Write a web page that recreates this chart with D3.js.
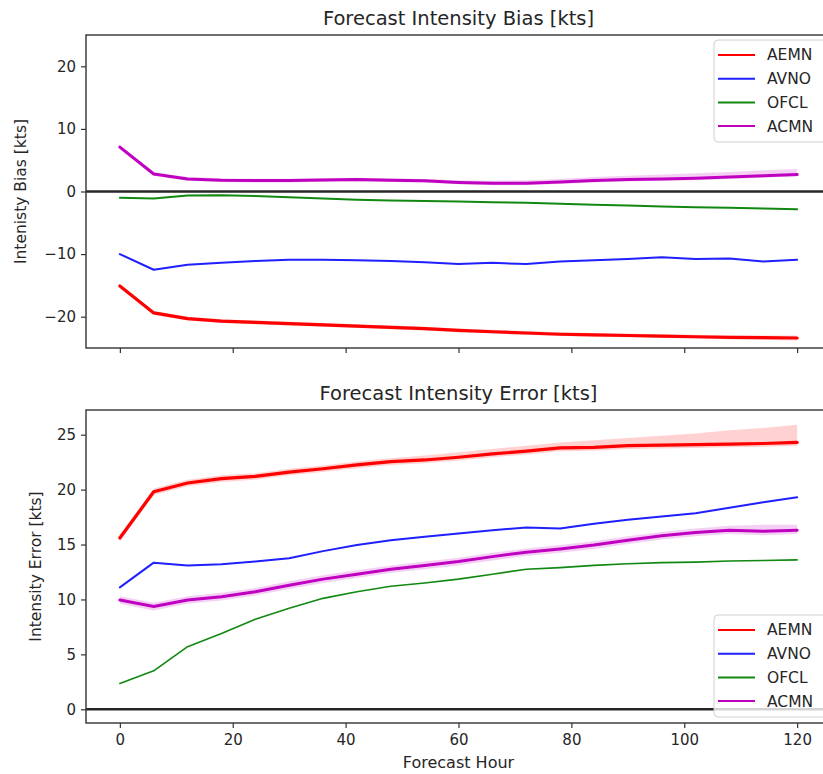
<!DOCTYPE html>
<html>
<head>
<meta charset="utf-8">
<script src="https://cdn.jsdelivr.net/npm/d3@7/dist/d3.min.js"></script>
<style>
  html, body { margin: 0; padding: 0; background: #fff; }
  svg { display: block; font-family: "DejaVu Sans", sans-serif; }
</style>
</head>
<body>
<svg id="chart" width="823" height="774"></svg>
<script>
// ---------------- DATA ----------------
const hours = [0, 6, 12, 18, 24, 30, 36, 42, 48, 54, 60, 66, 72, 78, 84, 90, 96, 102, 108, 114, 120];
const seriesNames = ["AEMN", "AVNO", "OFCL", "ACMN"];
const seriesColors = ["#ff0000", "#1f1fff", "#118811", "#c000c0"];

// Forecast Intensity Bias [kts]
const biasAEMN = [-15.1, -19.4, -20.3, -20.7, -20.9, -21.1, -21.3, -21.5, -21.7, -21.9, -22.2, -22.4, -22.6, -22.8, -22.9, -23.0, -23.1, -23.2, -23.3, -23.35, -23.4];
const biasAVNO = [-10.0, -12.5, -11.7, -11.4, -11.1, -10.9, -10.9, -11.0, -11.1, -11.3, -11.6, -11.4, -11.6, -11.2, -11.0, -10.8, -10.5, -10.8, -10.7, -11.2, -10.9];
const biasOFCL = [-1.0, -1.1, -0.65, -0.6, -0.7, -0.9, -1.1, -1.3, -1.45, -1.5, -1.6, -1.7, -1.8, -1.95, -2.1, -2.25, -2.4, -2.5, -2.6, -2.7, -2.85];
const biasACMN = [7.1, 2.8, 2.0, 1.8, 1.75, 1.75, 1.85, 1.9, 1.8, 1.7, 1.45, 1.3, 1.3, 1.5, 1.75, 1.9, 2.0, 2.1, 2.3, 2.5, 2.7];
// faint ensemble spread (upper / lower envelopes)
const biasAEMNUpper = [-14.8, -19.1, -20.0, -20.4, -20.6, -20.8, -21.0, -21.2, -21.4, -21.6, -21.9, -22.1, -22.3, -22.5, -22.6, -22.7, -22.8, -22.9, -23.0, -23.0, -23.0];
const biasAEMNLower = [-15.4, -19.7, -20.6, -21.0, -21.2, -21.4, -21.6, -21.8, -22.0, -22.2, -22.5, -22.7, -22.9, -23.1, -23.2, -23.3, -23.4, -23.5, -23.6, -23.7, -23.8];
const biasACMNUpper = [7.4, 3.1, 2.3, 2.1, 2.05, 2.05, 2.15, 2.2, 2.1, 2.0, 1.8, 1.7, 1.8, 2.0, 2.3, 2.5, 2.7, 2.9, 3.1, 3.4, 3.6];
const biasACMNLower = [6.8, 2.5, 1.7, 1.5, 1.45, 1.45, 1.55, 1.6, 1.5, 1.4, 1.15, 1.0, 1.0, 1.2, 1.45, 1.6, 1.7, 1.8, 2.0, 2.2, 2.4];

// Forecast Intensity Error [kts]
const errAEMN = [15.6, 19.8, 20.6, 21.0, 21.2, 21.6, 21.9, 22.25, 22.55, 22.7, 22.95, 23.25, 23.5, 23.8, 23.85, 24.0, 24.05, 24.1, 24.15, 24.2, 24.3];
const errAVNO = [11.1, 13.35, 13.1, 13.2, 13.45, 13.75, 14.4, 14.95, 15.4, 15.7, 16.0, 16.3, 16.55, 16.45, 16.9, 17.25, 17.55, 17.85, 18.35, 18.85, 19.3];
const errOFCL = [2.35, 3.5, 5.7, 6.9, 8.2, 9.2, 10.1, 10.7, 11.2, 11.5, 11.85, 12.3, 12.75, 12.9, 13.1, 13.25, 13.35, 13.4, 13.5, 13.55, 13.6];
const errACMN = [9.95, 9.35, 9.95, 10.25, 10.7, 11.3, 11.85, 12.3, 12.75, 13.1, 13.45, 13.9, 14.3, 14.6, 14.95, 15.4, 15.8, 16.1, 16.3, 16.2, 16.3];
const errAEMNUpper = [15.9, 20.1, 20.9, 21.3, 21.5, 21.9, 22.2, 22.55, 22.85, 23.1, 23.4, 23.7, 24.0, 24.3, 24.5, 24.7, 24.9, 25.1, 25.4, 25.6, 25.9];
const errAEMNLower = [15.3, 19.5, 20.3, 20.7, 20.9, 21.3, 21.6, 21.95, 22.25, 22.4, 22.65, 22.95, 23.2, 23.5, 23.55, 23.7, 23.75, 23.8, 23.85, 23.9, 24.0];
const errACMNUpper = [10.3, 9.7, 10.3, 10.6, 11.05, 11.65, 12.2, 12.65, 13.1, 13.45, 13.8, 14.25, 14.65, 14.95, 15.3, 15.75, 16.15, 16.45, 16.7, 16.8, 16.8];
const errACMNLower = [9.6, 9.0, 9.6, 9.9, 10.35, 10.95, 11.5, 11.95, 12.4, 12.75, 13.1, 13.55, 13.95, 14.25, 14.6, 15.05, 15.45, 15.75, 15.95, 15.85, 15.95];

const xTicks = [0, 20, 40, 60, 80, 100, 120];
const biasTicks = [-20, -10, 0, 10, 20];
const errTicks = [0, 5, 10, 15, 20, 25];

// ---------------- DRAW ----------------
const svg = d3.select("#chart");
const x = d3.scaleLinear().domain([-6, 126]).range([86, 831]);

const panels = [
  {
    title: "Forecast Intensity Bias [kts]", ylabel: "Intenisty Bias [kts]",
    yDomain: [-25, 25], top: 35, bottom: 348, yTicks: biasTicks, xLabels: false,
    titleY: 25, ylabelX: 21,
    series: [biasAEMN, biasAVNO, biasOFCL, biasACMN],
    widths: [3.2, 2, 2, 3],
    bands: [[biasAEMNLower, biasAEMNUpper, 0], [biasACMNLower, biasACMNUpper, 3]],
    legendTop: 40
  },
  {
    title: "Forecast Intensity Error [kts]", ylabel: "Intensity Error [kts]",
    yDomain: [-1.25, 27.25], top: 410, bottom: 723, yTicks: errTicks, xLabels: true,
    titleY: 400, ylabelX: 36,
    series: [errAEMN, errAVNO, errOFCL, errACMN],
    widths: [3.2, 2, 1.6, 3],
    bands: [[errAEMNLower, errAEMNUpper, 0], [errACMNLower, errACMNUpper, 3]],
    legendTop: 615
  }
];

panels.forEach((p, pi) => {
  const y = d3.scaleLinear().domain(p.yDomain).range([p.bottom, p.top]);
  const g = svg.append("g");
  const clipId = "clip" + pi;
  svg.append("clipPath").attr("id", clipId).append("rect")
    .attr("x", x.range()[0]).attr("y", p.top)
    .attr("width", x.range()[1] - x.range()[0]).attr("height", p.bottom - p.top);

  const plot = g.append("g").attr("clip-path", `url(#${clipId})`);

  // faint spread bands
  p.bands.forEach(([lo, hi, ci]) => {
    const area = d3.area().x((d, i) => x(hours[i])).y0((d, i) => y(lo[i])).y1((d, i) => y(hi[i])).curve(d3.curveLinear);
    plot.append("path").datum(hours).attr("d", area)
      .attr("fill", seriesColors[ci]).attr("fill-opacity", 0.18);
  });

  // zero line
  plot.append("line").attr("x1", x.range()[0]).attr("x2", x.range()[1])
    .attr("y1", y(0)).attr("y2", y(0)).attr("stroke", "#262626").attr("stroke-width", 2.5);

  // series lines
  p.series.forEach((vals, si) => {
    const line = d3.line().x((d, i) => x(hours[i])).y(d => y(d));
    plot.append("path").datum(vals).attr("d", line)
      .attr("fill", "none").attr("stroke", seriesColors[si])
      .attr("stroke-width", p.widths[si]).attr("stroke-linejoin", "round").attr("stroke-linecap", "round");
  });

  // axes
  const yAxis = d3.axisLeft(y).tickValues(p.yTicks).tickSize(5).tickPadding(5);
  const yg = g.append("g").attr("transform", `translate(${x.range()[0]},0)`).call(yAxis);
  const xAxis = d3.axisBottom(x).tickValues(xTicks).tickSize(5).tickPadding(6);
  if (!p.xLabels) xAxis.tickFormat("");
  const xg = g.append("g").attr("transform", `translate(0,${p.bottom})`).call(xAxis);
  [yg, xg].forEach(ax => {
    ax.select(".domain").remove();
    ax.selectAll(".tick line").attr("stroke", "#333").attr("stroke-width", 1.2);
    ax.selectAll(".tick text").attr("fill", "#262626").style("font-size", "15px").style("font-family", "DejaVu Sans");
  });

  // frame
  g.append("rect").attr("x", x.range()[0]).attr("y", p.top)
    .attr("width", x.range()[1] - x.range()[0]).attr("height", p.bottom - p.top)
    .attr("fill", "none").attr("stroke", "#333").attr("stroke-width", 1.4);

  // title
  g.append("text").attr("x", (x.range()[0] + x.range()[1]) / 2).attr("y", p.titleY)
    .attr("text-anchor", "middle").attr("fill", "#262626").style("font-size", "19.5px").text(p.title);

  // y label
  g.append("text").attr("transform", `translate(${p.ylabelX},${(p.top + p.bottom) / 2}) rotate(-90)`)
    .attr("text-anchor", "middle").attr("dy", "0.35em").attr("fill", "#262626").style("font-size", "15.5px").text(p.ylabel);

  // legend
  const lg = g.append("g");
  lg.append("rect").attr("x", 714).attr("y", p.legendTop).attr("width", 118).attr("height", 102)
    .attr("rx", 4).attr("fill", "#fff").attr("fill-opacity", 0.8).attr("stroke", "#d0d0d0").attr("stroke-width", 1);
  seriesNames.forEach((name, si) => {
    const ly = p.legendTop + 15 + si * 23.7;
    lg.append("line").attr("x1", 718).attr("x2", 755).attr("y1", ly).attr("y2", ly)
      .attr("stroke", seriesColors[si]).attr("stroke-width", 2);
    lg.append("text").attr("x", 767).attr("y", ly).attr("dy", "0.35em")
      .attr("fill", "#262626").style("font-size", "15.5px").text(name);
  });
});

// x label
svg.append("text").attr("x", (x.range()[0] + x.range()[1]) / 2).attr("y", 768)
  .attr("text-anchor", "middle").attr("fill", "#262626").style("font-size", "16px").text("Forecast Hour");
</script>
</body>
</html>
